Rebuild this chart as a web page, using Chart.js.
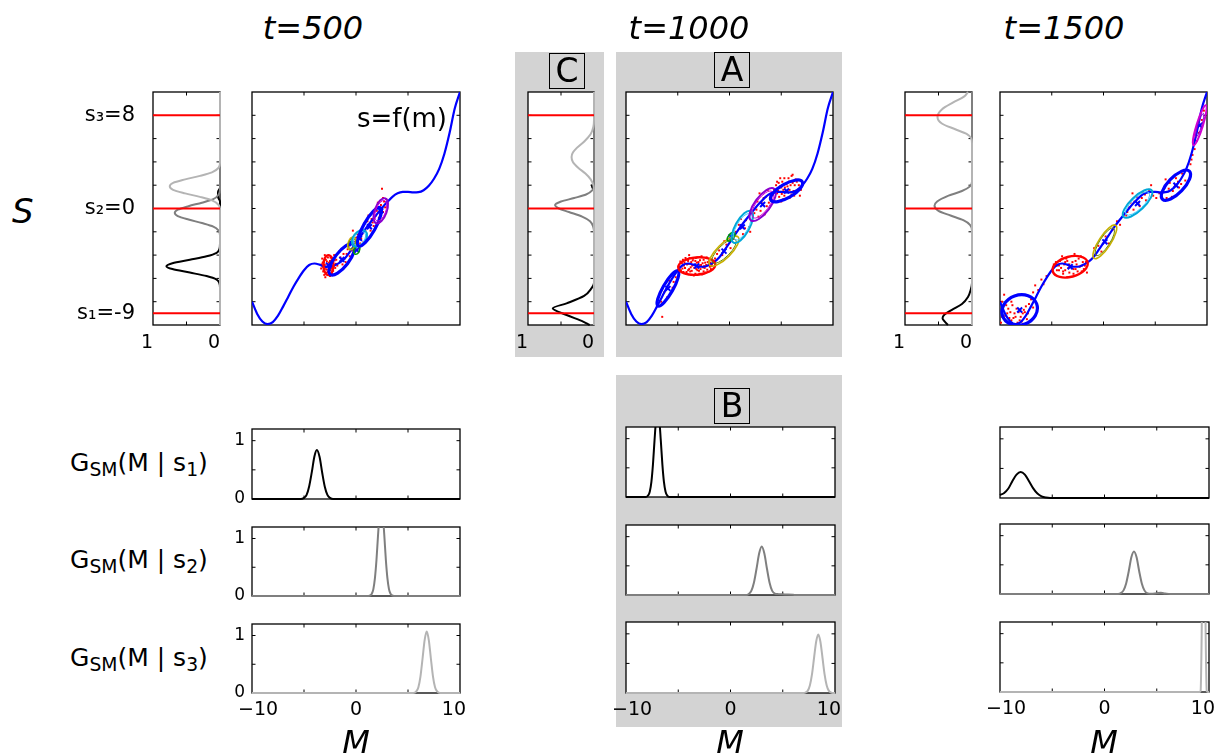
<!DOCTYPE html>
<html><head><meta charset="utf-8">
<script src="https://cdn.jsdelivr.net/npm/chart.js@4.4.1/dist/chart.umd.min.js"></script>
<style>
body{margin:0;background:#fff;width:1214px;height:755px;overflow:hidden;position:relative;font-family:'DejaVu Sans',sans-serif;color:#000;}
.gray{position:absolute;background:#d3d3d3;}
.tag{position:absolute;border:1px solid #000;background:#d3d3d3;font-size:33px;text-align:center;box-sizing:border-box;z-index:5;}
.txt{position:absolute;white-space:nowrap;line-height:1;z-index:5;}
.it{font-style:italic;}
.c{transform:translateX(-50%);}
sub{font-size:75%;vertical-align:-0.28em;line-height:0;}
</style></head>
<body>
<div class="gray" style="left:515px;top:52px;width:89px;height:305px"></div>
<div class="gray" style="left:616px;top:52px;width:226px;height:305px"></div>
<div class="gray" style="left:616px;top:375px;width:226px;height:352px"></div>
<div class="tag" style="left:549px;top:53px;width:36px;height:36px;line-height:34px">C</div>
<div class="tag" style="left:714px;top:52px;width:36px;height:36px;line-height:34px">A</div>
<div class="tag" style="left:714px;top:388px;width:36px;height:36px;line-height:34px">B</div>

<div class="txt it c" style="left:313px;top:12px;font-size:32px">t=500</div>
<div class="txt it c" style="left:689px;top:12px;font-size:32px">t=1000</div>
<div class="txt it c" style="left:1064px;top:12px;font-size:32px">t=1500</div>
<div class="txt it" style="left:12px;top:194px;font-size:34px">S</div>
<div class="txt" style="right:767px;top:105px;font-size:26px">s=f(m)</div>
<div class="txt" style="left:70px;top:450px;font-size:25px">G<sub>SM</sub>(M | s<sub>1</sub>)</div>
<div class="txt" style="left:70px;top:547px;font-size:25px">G<sub>SM</sub>(M | s<sub>2</sub>)</div>
<div class="txt" style="left:70px;top:645px;font-size:25px">G<sub>SM</sub>(M | s<sub>3</sub>)</div>
<div class="txt it c" style="left:356px;top:726px;font-size:32px">M</div>
<div class="txt it c" style="left:730px;top:726px;font-size:32px">M</div>
<div class="txt it c" style="left:1104px;top:726px;font-size:32px">M</div>

<script>
// ---------------- DATA ----------------
const timeLabels = ['t=500', 't=1000', 't=1500'];
const sValues = [-9, 0, 8];
const sTickLabels = ['s\u2081=-9', 's\u2082=0', 's\u2083=8'];
const densityTickValues = [1, 0];
const gTickValues = [0, 1];
const mTickValues = [-10, 0, 10];
const mTickLabels = ['\u2007\u221210', '0', '10\u2007'];

// s = f(m) curve
const curveM = [-10,-9.5,-9,-8.5,-8,-7.5,-7,-6.5,-6,-5.5,-5,-4.5,-4,-3.5,-3,-2.5,-2,-1.5,-1,-0.5,0,0.5,1,1.5,2,2.5,3,3.5,4,4.5,5,5.5,6,6.5,7,7.5,8,8.5,9,9.5,10];
const curveS = [-8,-9.05,-9.7,-9.92,-9.75,-9.2,-8.4,-7.55,-6.7,-5.95,-5.3,-4.85,-4.72,-4.82,-5.0,-5.0,-4.85,-4.6,-4.2,-3.6,-2.95,-2.3,-1.65,-1.05,-0.5,0.05,0.55,1.0,1.3,1.42,1.43,1.38,1.4,1.57,1.95,2.55,3.4,4.7,6.5,8.6,10];

// side densities: S positions and density values (t=500)
const d500_s1_S = [-10,-6.8,-6.4,-6.1,-5.8,-5.5,-5.2,-4.95,-4.7,-4.4,-4.1,-3.8,-3.5,-3.0,0.6,1.0,1.4,1.8,10];
const d500_s1_D = [0,0,0.01,0.05,0.2,0.45,0.71,0.8,0.71,0.45,0.2,0.05,0.01,0,0,0.03,0.03,0,0];
const d500_s2_S = [-10,-2.3,-1.9,-1.55,-1.25,-0.95,-0.65,-0.37,-0.1,0.2,0.5,0.8,1.2,1.6,10];
const d500_s2_D = [0,0,0.02,0.1,0.27,0.47,0.63,0.675,0.63,0.47,0.27,0.1,0.02,0,0];
const d500_s3_S = [-10,0,0.3,0.7,1.0,1.3,1.6,1.9,2.2,2.5,2.8,3.1,3.5,3.9,10];
const d500_s3_D = [0,0,0.02,0.12,0.3,0.52,0.7,0.75,0.7,0.52,0.3,0.12,0.02,0,0];
// t=1000
const d1000_s1_S = [-10,-9.71,-9.14,-8.57,-8.14,-7.5,-6.86,-6.4,1.5,1.9,2.3,10];
const d1000_s1_D = [0.065,0.165,0.415,0.625,0.415,0.15,0.04,0,0,0.03,0,0];
const d1000_s2_S = [-10,-2.1,-1.6,-1.1,-0.7,-0.3,0,0.29,0.6,0.9,1.2,1.6,2.0,10];
const d1000_s2_D = [0,0,0.01,0.06,0.18,0.38,0.53,0.59,0.5,0.3,0.12,0.02,0,0];
const d1000_s3_S = [-10,1.6,2.0,2.5,3.0,3.5,4.0,4.43,4.8,5.2,5.8,6.4,7.0,7.6,10];
const d1000_s3_D = [0,0,0.01,0.05,0.13,0.24,0.32,0.34,0.32,0.26,0.14,0.05,0.01,0,0];
// t=1500
const d1500_s1_S = [-10,-9.75,-9.43,-9.1,-8.7,-8.2,-7.6,-7.0,-6.4,10];
const d1500_s1_D = [0.36,0.4,0.44,0.41,0.3,0.15,0.06,0.02,0,0];
const d1500_s2_S = [-10,-1.9,-1.4,-1.0,-0.6,-0.2,0.23,0.6,1.1,1.5,1.9,2.3,10];
const d1500_s2_D = [0,0,0.03,0.13,0.32,0.5,0.56,0.52,0.35,0.15,0.03,0,0];
const d1500_s3_S = [-10,5.6,6.0,6.4,6.8,7.3,7.86,8.5,9.1,9.6,10];
const d1500_s3_D = [0,0,0.01,0.08,0.25,0.45,0.515,0.45,0.28,0.12,0.06];

// G_SM(M | s_i) curves
const g500_s1_M = [-10,-5.3,-5.0,-4.75,-4.5,-4.25,-4.0,-3.76,-3.5,-3.25,-3.0,-2.75,-2.5,-2.2,10];
const g500_s1_V = [0,0,0.02,0.07,0.22,0.46,0.73,0.84,0.72,0.45,0.21,0.07,0.02,0,0];
const g500_s2_M = [-10,1.2,1.37,1.52,1.67,1.82,1.97,2.12,2.27,2.42,2.57,2.72,2.87,3.02,3.17,3.32,3.47,3.65,10];
const g500_s2_V = [0,0,0.01,0.04,0.12,0.31,0.63,1.06,1.44,1.6,1.44,1.06,0.63,0.31,0.12,0.04,0.01,0,0];
const g500_s3_M = [-10,5.5,5.8,6.0,6.2,6.4,6.6,6.8,7.0,7.2,7.4,7.6,7.8,8.1,10];
const g500_s3_V = [0,0,0.028,0.1,0.29,0.6,0.92,1.07,0.92,0.6,0.29,0.1,0.028,0,0];
const g1000_s1_M = [-10,-8.1,-7.87,-7.72,-7.57,-7.42,-7.27,-7.12,-6.97,-6.82,-6.67,-6.52,-6.37,-6.22,-6.07,-5.85,10];
const g1000_s1_V = [0,0,0.029,0.096,0.26,0.56,0.97,1.34,1.5,1.34,0.97,0.56,0.26,0.096,0.029,0,0];
const g1000_s2_M = [-10,1.5,1.74,1.99,2.24,2.49,2.74,2.99,3.24,3.49,3.74,3.99,4.24,4.6,5.2,6.0,6.5,10];
const g1000_s2_V = [0,0,0.018,0.07,0.21,0.45,0.71,0.83,0.71,0.45,0.21,0.07,0.025,0.015,0.01,0.003,0,0];
const g1000_s3_M = [-10,7.0,7.2,7.4,7.6,7.8,8.0,8.2,8.4,8.6,8.8,9.0,9.2,9.4,9.6,9.8,10];
const g1000_s3_V = [0,0,0.011,0.04,0.13,0.32,0.6,0.87,0.99,0.87,0.6,0.32,0.13,0.04,0.011,0,0];
const g1500_s1_M = [-10,-9.6,-9.2,-8.82,-8.42,-8.02,-7.62,-7.22,-6.82,-6.42,-6.02,-5.62,-5.2,10];
const g1500_s1_V = [0.05,0.085,0.16,0.283,0.394,0.44,0.394,0.283,0.162,0.075,0.028,0.008,0,0];
const g1500_s2_M = [-10,1.3,1.57,1.82,2.07,2.32,2.57,2.82,3.07,3.32,3.57,3.82,4.07,4.5,5.0,5.4,5.8,6.3,10];
const g1500_s2_V = [0,0,0.016,0.062,0.18,0.39,0.63,0.73,0.63,0.39,0.18,0.062,0.016,0.005,0.015,0.02,0.01,0,0];
const g1500_s3_M = [-10,9.1,9.2,9.3,9.38,9.49,9.6,9.68,9.78,9.9,10];
const g1500_s3_V = [0,0,0.02,1.0,2.5,4.0,2.5,1.0,0.02,0,0];

// Gaussian components: [centre M, centre S, half major axis dM, dS, minor/major ratio, component]
const ell500 = [
  [-2.65,-4.86,0,0.86,0.5,'red'],
  [-1.36,-4.37,1.115,1.3,0.37,'blue'],
  [-0.4,-3.0,0.2,0.55,0.55,'yellow'],
  [0.08,-3.57,0.15,0.35,0.6,'green'],
  [0.33,-2.57,0.56,0.64,0.65,'cyan'],
  [1.29,-1.57,1.04,1.65,0.27,'blue'],
  [2.38,-0.2,0.445,1.07,0.45,'purple']
];
const ell1000 = [
  [-5.95,-6.86,0.965,1.5,0.25,'blue'],
  [-3.16,-4.94,1.79,0.14,0.47,'red'],
  [-0.53,-3.66,1.365,1.215,0.35,'yellow'],
  [0.15,-2.43,0.3,0.35,0.5,'green'],
  [1.24,-1.58,0.85,1.355,0.39,'cyan'],
  [3.2,0.34,1.125,1.355,0.4,'purple'],
  [5.51,1.51,1.52,0.785,0.38,'blue']
];
const ell1500 = [
  [-8.1,-8.71,1.64,0.53,0.83,'blue'],
  [-3.22,-5.0,1.68,0.4,0.56,'red'],
  [0.13,-2.86,1.045,1.425,0.3,'yellow'],
  [3.29,0.43,1.355,1.145,0.36,'cyan'],
  [7.0,2.0,1.295,1.21,0.41,'blue'],
  [9.3,7.14,0.595,1.715,0.15,'magenta']
];

// samples [M, S]
const dots500 = [[-3.1,-4.6],[-3.0,-5.2],[-2.9,-4.4],[-2.8,-5.5],[-2.6,-5.3],[-2.5,-4.5],[-2.4,-5.0],[-3.2,-5.0],[-2.2,-4.7],[-2.0,-5.1],[-3.05,-5.7],[-2.7,-4.2],[-2.3,-5.6],[-1.9,-4.4],[-3.25,-4.3],[-2.95,-5.9],
 [-2.75,-4.8],[-2.55,-4.9],[-2.85,-5.05],[-2.45,-5.3],[-3.15,-5.4],[-2.65,-5.7],[-3.3,-4.8],[-2.35,-4.3],[-2.05,-4.45],[-2.8,-4.55],[-3.0,-4.0],[-2.5,-5.8],
 [-3.2,-4.65],[-3.0,-4.85],[-2.8,-5.25],[-2.6,-4.65],[-2.4,-4.75],[-2.2,-5.35],[-2.55,-5.05],[-2.9,-5.05],[-3.1,-5.3],[-2.7,-5.45],[-2.35,-5.15],[-2.15,-4.95],[-3.35,-5.15],[-2.45,-4.2],[-1.95,-4.75],
 [-1.8,-4.9],[-1.5,-4.2],[-1.2,-3.9],[-1.0,-4.6],[-1.6,-3.7],[-0.8,-3.5],[-2.1,-4.0],[-0.6,-4.1],[-1.3,-4.8],[-1.1,-4.3],[-0.9,-3.9],[-0.4,-3.6],
 [-0.5,-2.6],[-0.2,-3.3],[0.1,-2.2],[0.4,-3.0],[0.6,-2.2],[-0.3,-1.9],[0.7,-2.9],[-0.7,-3.2],[0.2,-2.8],[0.0,-2.5],[0.5,-2.6],
 [0.9,-1.9],[1.1,-1.1],[1.4,-1.9],[1.5,-0.9],[1.7,-1.5],[1.0,-2.4],[1.9,-0.6],[1.2,-0.6],[0.8,-1.3],[1.3,-1.4],[1.6,-1.2],
 [2.2,-0.8],[2.4,0.3],[2.6,-0.3],[2.1,0.5],[2.7,0.6],[2.3,-1.1],[2.5,1.7],[2.8,0.1],[2.0,-0.2],[2.3,-0.5],[2.6,0.9],[2.9,0.8],[2.2,0.1]];
const dots1000 = [[-4.6,-4.7],[-4.3,-5.1],[-4.0,-4.5],[-3.8,-5.4],[-3.5,-4.3],[-3.3,-5.6],[-3.0,-4.6],[-2.8,-5.2],[-2.5,-4.4],[-2.3,-5.5],[-2.0,-4.8],[-1.8,-5.2],[-3.6,-4.9],[-2.7,-4.1],[-4.2,-5.6],[-1.6,-4.5],[-3.9,-4.0],[-2.2,-4.2],[-3.2,-5.2],[-4.8,-5.0],
 [-4.4,-4.9],[-4.1,-4.8],[-3.7,-4.6],[-3.4,-5.1],[-3.1,-5.3],[-2.9,-4.9],[-2.6,-4.7],[-2.4,-5.1],[-2.1,-4.6],[-1.9,-5.0],[-3.3,-4.5],[-3.9,-5.2],[-4.5,-4.4],[-1.7,-4.8],[-2.9,-5.6],[-3.7,-5.7],[-4.0,-5.3],[-3.1,-4.2],[-2.5,-5.4],[-4.7,-5.3],
 [-4.75,-4.55],[-4.55,-5.15],[-4.35,-4.65],[-4.15,-5.45],[-3.95,-4.75],[-3.75,-5.05],[-3.55,-4.45],[-3.35,-4.85],[-3.15,-4.65],[-2.95,-5.35],[-2.75,-4.85],[-2.55,-5.05],[-2.35,-4.65],[-2.15,-5.25],[-1.95,-4.45],[-1.75,-4.95],
 [-4.45,-5.45],[-4.05,-4.35],[-3.65,-5.35],[-3.25,-4.25],[-2.85,-4.45],[-2.45,-4.95],[-2.05,-5.45],[-3.45,-5.75],[-2.65,-5.65],[-4.25,-4.25],[-1.85,-4.65],[-3.05,-5.05],[-3.85,-4.25],[-2.25,-4.85],
 [-6.6,-8.0],[-6.3,-7.2],[-5.8,-6.2],[-5.5,-6.8],[-6.5,-9.3],[-5.2,-5.9],[-6.0,-7.6],[-5.4,-6.3],
 [-1.4,-4.3],[-1.0,-3.6],[-0.7,-4.0],[-0.3,-3.1],[0.1,-3.4],[-0.5,-2.8],[0.4,-2.6],[-1.2,-3.9],
 [0.6,-2.0],[0.9,-1.4],[1.3,-2.2],[1.6,-1.0],[1.9,-1.6],[1.1,-0.9],[2.0,-2.0],[1.5,-1.7],
 [2.4,-0.4],[2.7,0.6],[3.0,-0.2],[3.3,0.9],[3.6,0.2],[3.9,1.2],[2.9,1.3],[3.4,-0.5],[2.6,-0.1],[3.1,0.5],[3.5,1.0],[3.8,0.5],[2.8,-0.7],[3.7,1.6],
 [4.2,1.2],[4.5,2.0],[4.8,1.0],[5.1,2.3],[5.4,1.4],[5.7,2.6],[6.0,1.2],[6.3,2.0],[6.6,1.6],[5.2,0.8],[4.9,2.6],[6.0,2.8],[6.8,1.1],[4.4,0.6],[5.6,1.9],[6.4,2.5],
 [4.7,1.5],[5.0,1.8],[5.3,1.1],[5.6,1.5],[5.9,2.0],[6.2,1.5],[5.8,0.9],[4.6,2.3],[6.5,2.3],[5.3,2.6],[6.1,2.9],[5.0,0.6],
 [4.3,1.6],[4.6,1.3],[4.9,1.9],[5.2,1.6],[5.5,2.1],[5.8,1.6],[6.1,2.2],[6.4,1.4],[6.7,2.0],[5.35,1.8],[5.75,2.3],[4.75,2.2],[6.25,1.1],[5.05,1.25],[6.9,1.6]];
const dots1500 = [[-9.8,-8.0],[-9.5,-9.2],[-9.2,-8.6],[-8.9,-9.6],[-8.6,-9.0],[-8.3,-9.8],[-8.0,-9.3],[-7.7,-8.7],[-7.4,-9.5],[-7.2,-8.2],[-9.9,-9.8],[-9.6,-7.4],[-7.0,-7.8],[-6.8,-7.2],[-8.8,-8.3],
 [-9.3,-9.0],[-9.0,-8.9],[-8.7,-9.4],[-8.4,-8.6],[-8.1,-9.6],[-7.8,-9.0],[-9.7,-8.6],[-7.5,-8.4],[-8.9,-8.0],
 [-9.4,-8.3],[-9.1,-9.4],[-8.5,-9.3],[-8.2,-8.9],[-7.9,-9.7],[-7.6,-8.9],[-9.8,-9.3],[-7.3,-9.0],
 [-6.6,-6.6],[-6.3,-7.0],[-6.0,-6.1],[-5.8,-6.5],[-5.5,-5.8],[-6.8,-8.5],
 [-4.8,-4.8],[-4.5,-5.3],[-4.2,-4.5],[-3.9,-5.4],[-3.6,-4.3],[-3.3,-5.5],[-3.0,-4.6],[-2.7,-5.2],[-2.4,-4.3],[-2.1,-5.4],[-1.8,-4.9],[-1.6,-5.5],[-4.0,-4.1],[-2.8,-3.9],[-3.5,-5.9],
 [-4.3,-4.9],[-3.8,-4.8],[-3.4,-5.1],[-3.1,-5.0],[-2.6,-4.8],[-2.3,-5.0],[-2.0,-4.6],[-4.6,-4.6],[-3.7,-5.3],[-2.9,-5.6],[-2.2,-4.1],[-1.9,-5.2],
 [-4.5,-4.9],[-4.1,-5.1],[-3.7,-4.6],[-3.3,-4.8],[-2.9,-5.2],[-2.5,-5.4],[-2.1,-4.9],[-3.9,-5.6],[-3.5,-4.5],[-2.7,-4.5],[-4.3,-5.3],[-1.7,-4.6],
 [-0.8,-4.0],[-0.5,-3.2],[-0.2,-3.7],[0.2,-2.4],[0.5,-3.0],[0.9,-1.8],[-0.9,-3.4],
 [1.3,-1.1],[1.6,-1.4],[1.9,-0.6],
 [2.3,-0.3],[2.6,0.5],[2.9,-0.1],[3.2,1.0],[3.5,0.2],[3.8,1.4],[4.1,0.7],[4.4,1.6],[2.8,1.3],[2.5,0.1],[3.0,0.6],[3.4,0.5],[3.7,0.9],[2.2,-0.6],[4.0,1.2],
 [4.8,1.1],[5.1,0.9],[5.4,1.3],[4.6,2.0],
 [5.8,1.4],[6.1,0.9],[6.4,2.2],[6.7,1.5],[7.0,2.6],[7.3,1.8],[7.6,3.0],[6.0,2.5],[7.9,2.4],[6.3,1.7],[6.9,2.0],[7.2,2.3],[6.6,1.0],[5.9,1.8],[7.5,2.1],
 [8.4,3.8],[8.6,4.6],[8.8,5.1],[8.5,4.2],[9.0,5.8],[9.2,6.5],[9.5,7.6],[9.7,8.4]];

// ---------------- STYLE ----------------
const BLUE='#0000ff', RED='#ff0000', BLACK='#000000', DGRAY='#7f7f7f', LGRAY='#b4b4b4';
const ellStyle = {
  blue:{color:BLUE,width:3.2},
  red:{color:RED,width:2.4},
  yellow:{color:'#c8b000',width:1.6,inner:{color:'#6f8a00',width:1,scale:0.82}},
  green:{color:'#009a00',width:1.6},
  cyan:{color:'#00a8d8',width:2,inner:{color:'#40c8ff',width:1,scale:0.82}},
  purple:{color:'#8a00d0',width:2,inner:{color:'#d000d0',width:1,scale:0.82}},
  magenta:{color:'#d000d0',width:2,inner:{color:'#8a00d0',width:1,scale:0.6}}
};
const FONT='DejaVu Sans';

function pts(xs, ys){ return xs.map((v,i)=>({x:v, y:ys[i]})); }
function ptsYX(ss, ds){ return ss.map((s,i)=>({x:ds[i], y:s})); }

function framePlugin(xt, yt, len){
  return {id:'frame', beforeDatasetsDraw(chart){
    const {ctx, chartArea:a, scales:{x,y}} = chart;
    ctx.save();
    ctx.fillStyle='#fff'; ctx.fillRect(a.left,a.top,a.width,a.height);
    ctx.strokeStyle='#000'; ctx.lineWidth=1.3;
    ctx.strokeRect(a.left,a.top,a.width,a.height);
    ctx.lineWidth=1; ctx.beginPath();
    xt.forEach(v=>{const p=x.getPixelForValue(v); ctx.moveTo(p,a.bottom); ctx.lineTo(p,a.bottom-len); ctx.moveTo(p,a.top); ctx.lineTo(p,a.top+len);});
    yt.forEach(v=>{const p=y.getPixelForValue(v); ctx.moveTo(a.left,p); ctx.lineTo(a.left+len,p); ctx.moveTo(a.right,p); ctx.lineTo(a.right-len,p);});
    ctx.stroke(); ctx.restore();
  }};
}
function ellipsePlugin(list){
  return {id:'ell', afterDatasetsDraw(chart){
    const {ctx, chartArea:a, scales:{x,y}} = chart;
    ctx.save(); ctx.beginPath(); ctx.rect(a.left,a.top,a.width,a.height); ctx.clip();
    list.forEach(([cx,cy,ax,ay,r,kind])=>{
      const st=ellStyle[kind];
      const px=x.getPixelForValue(cx), py=y.getPixelForValue(cy);
      const ex=x.getPixelForValue(cx+ax)-px, ey=y.getPixelForValue(cy+ay)-py;
      const A=Math.hypot(ex,ey), ang=Math.atan2(ey,ex);
      const draw=(k,color,w)=>{ctx.beginPath(); ctx.ellipse(px,py,A*k,Math.max(A*r*k,0.5),ang,0,2*Math.PI); ctx.strokeStyle=color; ctx.lineWidth=w; ctx.stroke();};
      draw(1,st.color,st.width);
      if(st.inner) draw(st.inner.scale,st.inner.color,st.inner.width);
    });
    ctx.restore();
  }};
}
function axis(size, isX, extra){
  return Object.assign({type:'linear', grid:{display:false, drawTicks:false}, border:{display:false},
    ticks:{display:false},
    afterFit(s){ if(isX){s.height=size; s.paddingLeft=0; s.paddingRight=0;} else {s.width=size; s.paddingTop=0; s.paddingBottom=0;} }
  }, extra);
}
function makeChart(box, pads, type, datasets, scales, plugins, extra){
  const W=box.w+pads.l+pads.r, H=box.h+pads.t+pads.b;
  const c=document.createElement('canvas'); c.width=W; c.height=H;
  c.style.cssText='position:absolute;left:'+(box.x-pads.l)+'px;top:'+(box.y-pads.t)+'px;width:'+W+'px;height:'+H+'px';
  document.body.appendChild(c);
  return new Chart(c,{type, data:{datasets}, plugins,
    options:Object.assign({responsive:false, animation:false, devicePixelRatio:1,
      layout:{autoPadding:false, padding:{left:0,top:pads.t,right:pads.r,bottom:0}},
      elements:{point:{radius:0}},
      plugins:{legend:{display:false},tooltip:{enabled:false}}, scales}, extra||{})});
}

const sideTicksY=[-8,-6,-4,-2,0,2,4,6,8];
function sidePanel(box, withLabels, dens){
  const pads={l: withLabels?100:16, t:4, r:6, b:30};
  const ds=[];
  sValues.forEach(v=>ds.push({data:[{x:0,y:v},{x:1,y:v}], borderColor:RED, borderWidth:2, tension:0, clip:{left:0,top:2,right:3,bottom:2}}));
  const cols=[LGRAY,DGRAY,BLACK];
  [dens[2],dens[1],dens[0]].forEach((d,i)=>ds.push({data:ptsYX(d[0],d[1]), borderColor:cols[i], borderWidth:2, cubicInterpolationMode:'monotone', clip:{left:0,top:2,right:3,bottom:2}}));
  const yExtra={min:-10,max:10};
  if(withLabels){
    yExtra.ticks={display:true, font:{family:FONT,size:21}, color:'#000', padding:18, autoSkip:false,
      callback:(v,i)=>sTickLabels[i]};
    yExtra.afterBuildTicks=(s)=>{s.ticks=sValues.map(v=>({value:v}));};
  }
  const xExtra={min:0,max:1,reverse:true,
    ticks:{display:true, font:{family:FONT,size:19}, color:'#000', padding:7, labelOffset:-6, maxRotation:0, autoSkip:false,
      callback:(v)=>String(v)},
    afterBuildTicks:(s)=>{s.ticks=densityTickValues.map(v=>({value:v}));}};
  makeChart(box, pads, 'line', ds, {x:axis(pads.b,true,xExtra), y:axis(pads.l,false,yExtra)},
    [framePlugin([0.5], sideTicksY, 3.5)], {indexAxis:'y'});
}
function mainPanel(box, ell, dots){
  const pads={l:2,t:2,r:2,b:2};
  const ds=[
    {data:ell.map(e=>({x:e[0],y:e[1]})), showLine:false, pointStyle:'crossRot', pointRadius:3.5, borderColor:BLUE, borderWidth:2, backgroundColor:BLUE},
    {data:pts(curveM,curveS), showLine:true, borderColor:BLUE, borderWidth:2.2, cubicInterpolationMode:'monotone', pointRadius:0},
    {data:dots.map(d=>({x:d[0],y:d[1]})), showLine:false, pointStyle:'rect', pointRadius:1.4, backgroundColor:RED, borderColor:RED, borderWidth:0}
  ];
  makeChart(box, pads, 'scatter', ds, {x:axis(pads.b,true,{min:-10,max:10}), y:axis(pads.l,false,{min:-10,max:10})},
    [framePlugin([-5,0,5], sideTicksY, 3.5), ellipsePlugin(ell)]);
}
function gPanel(box, mArr, vArr, color, yLabels, xLabels){
  const pads={l: (yLabels||xLabels)?30:6, t:3, r:18, b: xLabels?32:4};
  const ds=[{data:pts(mArr,vArr), showLine:true, borderColor:color, borderWidth:2, cubicInterpolationMode:'monotone', pointRadius:0, clip:{left:2,top:0,right:2,bottom:3}}];
  const yExtra={min:0,max:1.2};
  if(yLabels){
    yExtra.ticks={display:true, font:{family:FONT,size:17}, color:'#000', padding:7, autoSkip:false, callback:(v)=>String(v)};
    yExtra.afterBuildTicks=(s)=>{s.ticks=gTickValues.map(v=>({value:v}));};
  }
  const xExtra={min:-10,max:10};
  if(xLabels){
    xExtra.ticks={display:true, font:{family:FONT,size:19}, color:'#000', padding:6, maxRotation:0, autoSkip:false,
      callback:(v,i)=>mTickLabels[i]};
    xExtra.afterBuildTicks=(s)=>{s.ticks=mTickValues.map(v=>({value:v}));};
  }
  makeChart(box, pads, 'scatter', ds, {x:axis(pads.b,true,xExtra), y:axis(pads.l,false,yExtra)},
    [framePlugin([-5,0,5],[0.5,1],3.5)]);
}

// ---------------- LAYOUT ----------------
sidePanel({x:153,y:92,w:67,h:233}, true, [[d500_s1_S,d500_s1_D],[d500_s2_S,d500_s2_D],[d500_s3_S,d500_s3_D]]);
sidePanel({x:528,y:92,w:66,h:233}, false, [[d1000_s1_S,d1000_s1_D],[d1000_s2_S,d1000_s2_D],[d1000_s3_S,d1000_s3_D]]);
sidePanel({x:905,y:92,w:67,h:233}, false, [[d1500_s1_S,d1500_s1_D],[d1500_s2_S,d1500_s2_D],[d1500_s3_S,d1500_s3_D]]);
mainPanel({x:252,y:92,w:208,h:233}, ell500, dots500);
mainPanel({x:626,y:92,w:207,h:233}, ell1000, dots1000);
mainPanel({x:1000,y:92,w:207,h:233}, ell1500, dots1500);

gPanel({x:252,y:429,w:208,h:70}, g500_s1_M, g500_s1_V, BLACK, true, false);
gPanel({x:252,y:527,w:208,h:69}, g500_s2_M, g500_s2_V, DGRAY, true, false);
gPanel({x:252,y:624,w:208,h:69}, g500_s3_M, g500_s3_V, LGRAY, true, true);
gPanel({x:626,y:427,w:209,h:70}, g1000_s1_M, g1000_s1_V, BLACK, false, false);
gPanel({x:626,y:525,w:209,h:70}, g1000_s2_M, g1000_s2_V, DGRAY, false, false);
gPanel({x:626,y:622,w:209,h:71}, g1000_s3_M, g1000_s3_V, LGRAY, false, true);
gPanel({x:1000,y:427,w:209,h:71}, g1500_s1_M, g1500_s1_V, BLACK, false, false);
gPanel({x:1000,y:524,w:209,h:70}, g1500_s2_M, g1500_s2_V, DGRAY, false, false);
gPanel({x:1000,y:622,w:209,h:70}, g1500_s3_M, g1500_s3_V, LGRAY, false, true);
</script>
</body></html>
